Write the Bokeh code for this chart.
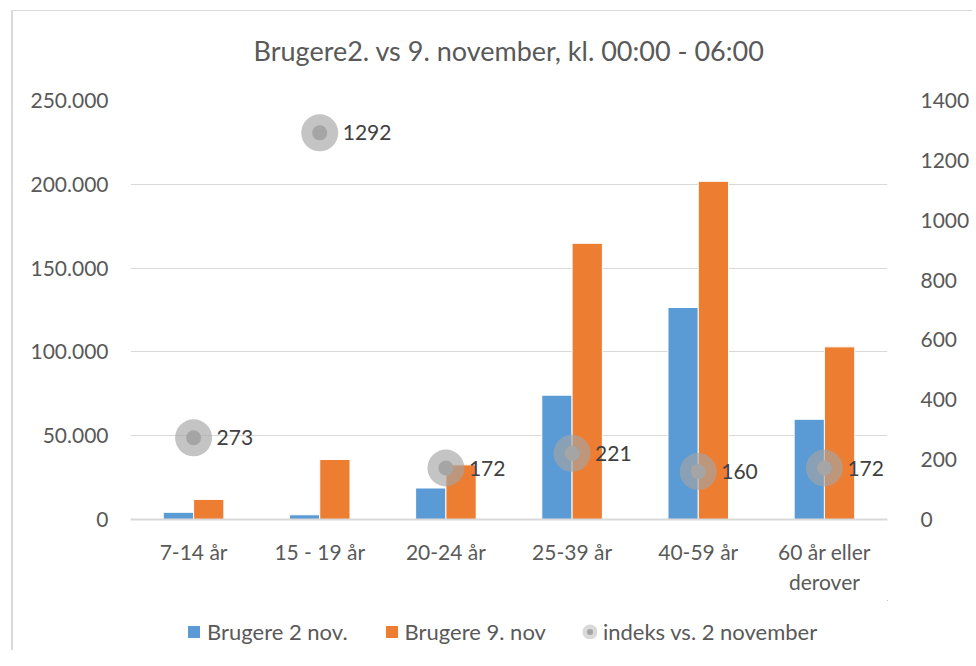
from bokeh.plotting import figure
from bokeh.layouts import column
from bokeh.models import (ColumnDataSource, FactorRange, Range1d, LinearAxis,
                          FixedTicker, Legend, LegendItem)
from bokeh.transform import dodge
from bokeh.core.properties import value
from bokeh.embed import file_html
from bokeh.resources import INLINE

# ---- data ----
categories = ["7-14 år", "15 - 19 år", "20-24 år", "25-39 år", "40-59 år", "60 år eller\nderover"]
brugere_2_nov = [4300, 2800, 18800, 74200, 126500, 59800]
brugere_9_nov = [12000, 35800, 32600, 164800, 201800, 103000]
indeks = [273, 1292, 172, 221, 160, 172]
left_ticks = [0, 50000, 100000, 150000, 200000, 250000]
left_tick_labels = ["0", "50.000", "100.000", "150.000", "200.000", "250.000"]
right_ticks = [0, 200, 400, 600, 800, 1000, 1200, 1400]
title_text = "Brugere2. vs 9. november, kl. 00:00 - 06:00"
series_names = ["Brugere 2 nov.", "Brugere 9. nov", "indeks vs. 2 november"]

FONT = "Lato"
TXT = "#595959"
GRID = "#d9d9d9"
BLUE = "#5b9bd5"
ORANGE = "#ed7d31"
GREY = "#a5a5a5"

src = ColumnDataSource(dict(
    cat=categories, b2=brugere_2_nov, b9=brugere_9_nov,
    idx=indeks, idx_label=[str(v) for v in indeks],
))

W = 959

# ---- title strip ----
tf = figure(width=W, height=80, output_backend="svg", toolbar_location=None,
            x_axis_type=None, y_axis_type=None, min_border=0)
tf.outline_line_color = None
tf.grid.grid_line_color = None
tf.title.text = title_text
tf.title.align = "center"
tf.title.text_font = FONT
tf.title.text_font_size = "27px"
tf.title.text_font_style = "normal"
tf.title.text_color = TXT
tf.title.standoff = 40

# ---- main chart ----
p = figure(x_range=FactorRange(*categories), y_range=Range1d(0, 250000),
           width=W, height=509, output_backend="svg", toolbar_location=None,
           min_border_left=117, min_border_right=75, min_border_top=9,
           min_border_bottom=81)
p.x_range.range_padding = 0
p.extra_y_ranges = {"idx": Range1d(0, 1400)}
p.outline_line_color = None
p.background_fill_color = "white"
p.border_fill_color = "white"

# bars
r_b2 = p.vbar(x=dodge("cat", -0.12, range=p.x_range), top="b2", width=0.24,
              source=src, fill_color=BLUE, line_color="white", line_width=1)
r_b9 = p.vbar(x=dodge("cat", 0.12, range=p.x_range), top="b9", width=0.24,
              source=src, fill_color=ORANGE, line_color="white", line_width=1)

# index markers
p.scatter(x="cat", y="idx", y_range_name="idx", source=src, size=37,
          fill_color=GREY, fill_alpha=0.65, line_color=None)
p.scatter(x="cat", y="idx", y_range_name="idx", source=src, size=15,
          fill_color=GREY, fill_alpha=1.0, line_color=None)
p.text(x="cat", y="idx", text="idx_label", y_range_name="idx", source=src,
       x_offset=23, text_baseline="middle", text_align="left",
       text_font=value(FONT), text_font_size="21px", text_color="#404040")

# axes
p.yaxis.ticker = FixedTicker(ticks=left_ticks)
p.yaxis.major_label_overrides = dict(zip(left_ticks, left_tick_labels))
right = LinearAxis(y_range_name="idx", ticker=FixedTicker(ticks=right_ticks))
p.add_layout(right, "right")

for ax in [p.yaxis[0], right]:
    ax.axis_line_color = None
    ax.major_tick_line_color = None
    ax.minor_tick_line_color = None
    ax.major_label_text_font = FONT
    ax.major_label_text_font_size = "21px"
    ax.major_label_text_color = TXT
p.yaxis[0].major_label_standoff = 16
right.major_label_standoff = 27

p.xaxis.axis_line_color = GRID
p.xaxis.axis_line_width = 2
p.xaxis.major_tick_line_color = None
p.xaxis.minor_tick_line_color = None
p.xaxis.major_label_text_font = FONT
p.xaxis.major_label_text_font_size = "21px"
p.xaxis.major_label_text_color = TXT
p.xaxis.major_label_standoff = 13

p.xgrid.grid_line_color = None
p.ygrid.grid_line_color = GRID
p.ygrid.grid_line_width = 1

# ---- legend strip (separate figure so the legend is not clipped) ----
lf = figure(width=W, height=50, output_backend="svg", toolbar_location=None,
            x_range=Range1d(-2, -1), y_range=Range1d(-2, -1),
            x_axis_type=None, y_axis_type=None, min_border=0)
lf.outline_line_color = None
lf.grid.grid_line_color = None
pos = list(range(len(categories)))
l_b2 = lf.vbar(x=pos, top=brugere_2_nov, width=0.5, fill_color=BLUE, line_color=None)
l_b9 = lf.vbar(x=pos, top=brugere_9_nov, width=0.5, fill_color=ORANGE, line_color=None)
l_ring = lf.scatter(x=pos, y=indeks, size=6, fill_color="#d9d9d9",
                    line_color="#d9d9d9", line_width=9)
l_dot = lf.scatter(x=pos, y=indeks, size=7, fill_color=GREY, line_color=None)

legend = Legend(items=[
    LegendItem(label=series_names[0], renderers=[l_b2]),
    LegendItem(label=series_names[1], renderers=[l_b9]),
    LegendItem(label=series_names[2], renderers=[l_ring, l_dot]),
], orientation="horizontal", location=(56, 5))
legend.label_text_font = FONT
legend.label_text_font_size = "22px"
legend.label_text_color = TXT
legend.glyph_width = 15
legend.glyph_height = 15
legend.label_standoff = 6
legend.spacing = 36
legend.border_line_color = None
legend.background_fill_alpha = 0
legend.padding = 0
legend.margin = 0
lf.add_layout(legend, "center")

layout = column(tf, p, lf, spacing=0, margin=(10, 0, 0, 11),
                styles={"border-left": "2px solid #d9d9d9",
                        "border-top": "1px solid #d9d9d9"})
open("out.html", "w").write(file_html(layout, INLINE))
